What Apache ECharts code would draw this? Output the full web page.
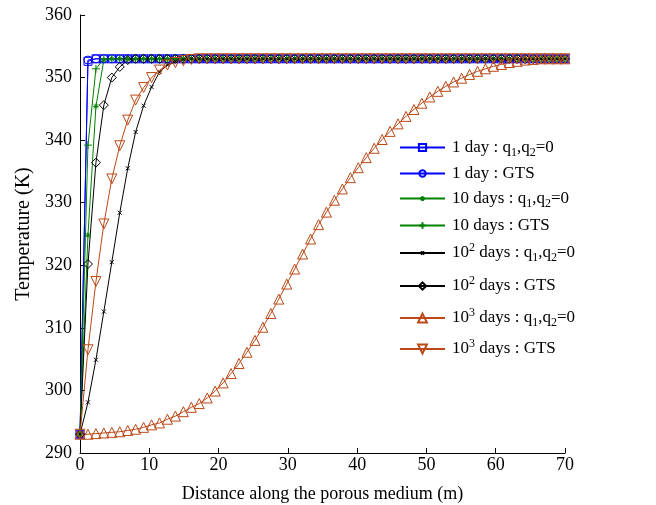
<!DOCTYPE html>
<html>
<head>
<meta charset="utf-8">
<script src="https://cdn.jsdelivr.net/npm/echarts@6/dist/echarts.min.js"></script>
<style>
html, body { margin: 0; padding: 0; background: #fff; }
#main { width: 656px; height: 505px; }
</style>
</head>
<body>
<div id="main"></div>
<script>
// x nodes along the medium (m)
var xs = [0, 1.15, 2.30, 3.44, 4.59, 5.74, 6.89, 8.03, 9.18, 10.33,
  11.48, 12.62, 13.77, 14.92, 16.07, 17.21, 18.36, 19.51, 20.66, 21.80,
  22.95, 24.10, 25.25, 26.39, 27.54, 28.69, 29.84, 30.98, 32.13, 33.28,
  34.43, 35.57, 36.72, 37.87, 39.02, 40.16, 41.31, 42.46, 43.61, 44.75,
  45.90, 47.05, 48.20, 49.34, 50.49, 51.64, 52.79, 53.93, 55.08, 56.23,
  57.38, 58.52, 59.67, 60.82, 61.97, 63.11, 64.26, 65.41, 66.56, 67.70,
  68.85, 70.00];

var day1Q = [293, 352.6, 353, 353, 353, 353, 353, 353, 353, 353,
  353, 353, 353, 353, 353, 353, 353, 353, 353, 353,
  353, 353, 353, 353, 353, 353, 353, 353, 353, 353,
  353, 353, 353, 353, 353, 353, 353, 353, 353, 353,
  353, 353, 353, 353, 353, 353, 353, 353, 353, 353,
  353, 353, 353, 353, 353, 353, 353, 353, 353, 353,
  353, 353];
var day1G = [293, 352.8, 353, 353, 353, 353, 353, 353, 353, 353,
  353, 353, 353, 353, 353, 353, 353, 353, 353, 353,
  353, 353, 353, 353, 353, 353, 353, 353, 353, 353,
  353, 353, 353, 353, 353, 353, 353, 353, 353, 353,
  353, 353, 353, 353, 353, 353, 353, 353, 353, 353,
  353, 353, 353, 353, 353, 353, 353, 353, 353, 353,
  353, 353];
var day10Q = [293, 324.8, 345.4, 352.8, 353, 353, 353, 353, 353, 353,
  353, 353, 353, 353, 353, 353, 353, 353, 353, 353,
  353, 353, 353, 353, 353, 353, 353, 353, 353, 353,
  353, 353, 353, 353, 353, 353, 353, 353, 353, 353,
  353, 353, 353, 353, 353, 353, 353, 353, 353, 353,
  353, 353, 353, 353, 353, 353, 353, 353, 353, 353,
  353, 353];
var day10G = [293, 339.2, 351.4, 353, 353, 353, 353, 353, 353, 353,
  353, 353, 353, 353, 353, 353, 353, 353, 353, 353,
  353, 353, 353, 353, 353, 353, 353, 353, 353, 353,
  353, 353, 353, 353, 353, 353, 353, 353, 353, 353,
  353, 353, 353, 353, 353, 353, 353, 353, 353, 353,
  353, 353, 353, 353, 353, 353, 353, 353, 353, 353,
  353, 353];
var day100Q = [293, 298.1, 304.9, 312.6, 320.5, 328.4, 335.5, 341.3, 345.5, 348.5,
  350.9, 352.0, 352.6, 352.9, 353, 353, 353, 353, 353, 353,
  353, 353, 353, 353, 353, 353, 353, 353, 353, 353,
  353, 353, 353, 353, 353, 353, 353, 353, 353, 353,
  353, 353, 353, 353, 353, 353, 353, 353, 353, 353,
  353, 353, 353, 353, 353, 353, 353, 353, 353, 353,
  353, 353];
var day100G = [293, 320.2, 336.4, 345.6, 350.0, 351.7, 352.8, 353, 353, 353,
  353, 353, 353, 353, 353, 353, 353, 353, 353, 353,
  353, 353, 353, 353, 353, 353, 353, 353, 353, 353,
  353, 353, 353, 353, 353, 353, 353, 353, 353, 353,
  353, 353, 353, 353, 353, 353, 353, 353, 353, 353,
  353, 353, 353, 353, 353, 353, 353, 353, 353, 353,
  353, 353];
var day1000Q = [293.0, 293.0, 293.1, 293.2, 293.3, 293.4, 293.6, 293.8, 294.1, 294.5,
  294.8, 295.4, 295.9, 296.6, 297.3, 297.9, 298.8, 299.9, 301.2, 302.7,
  304.3, 306.1, 308.0, 310.1, 312.3, 314.6, 317.0, 319.4, 321.8, 324.2,
  326.5, 328.5, 330.4, 332.2, 334.0, 335.6, 337.2, 338.7, 340.1, 341.4,
  342.6, 343.8, 344.9, 345.9, 346.9, 347.8, 348.6, 349.3, 349.9, 350.5,
  351.0, 351.4, 351.8, 352.1, 352.4, 352.6, 352.8, 352.9, 353.0, 353.0,
  353.0, 353.0];
var day1000G = [293, 306.5, 317.4, 326.6, 333.8, 339.1, 343.2, 346.4, 348.4, 350.0,
  351.2, 352.0, 352.4, 352.7, 352.9, 353, 353, 353, 353, 353,
  353, 353, 353, 353, 353, 353, 353, 353, 353, 353,
  353, 353, 353, 353, 353, 353, 353, 353, 353, 353,
  353, 353, 353, 353, 353, 353, 353, 353, 353, 353,
  353, 353, 353, 353, 353, 353, 353, 353, 353, 353,
  353, 353];

var names = ['1 day : q1,q2=0', '1 day : GTS', '10 days : q1,q2=0', '10 days : GTS',
  '10^2 days : q1,q2=0', '10^2 days : GTS', '10^3 days : q1,q2=0', '10^3 days : GTS'];
var labels = {
  '1 day : q1,q2=0': '{t|1 day : q}{sub|1}{t|,q}{sub|2}{t|=0}',
  '1 day : GTS': '{t|1 day : GTS}',
  '10 days : q1,q2=0': '{t|10 days : q}{sub|1}{t|,q}{sub|2}{t|=0}',
  '10 days : GTS': '{t|10 days : GTS}',
  '10^2 days : q1,q2=0': '{t|10}{sup|2}{t| days : q}{sub|1}{t|,q}{sub|2}{t|=0}',
  '10^2 days : GTS': '{t|10}{sup|2}{t| days : GTS}',
  '10^3 days : q1,q2=0': '{t|10}{sup|3}{t| days : q}{sub|1}{t|,q}{sub|2}{t|=0}',
  '10^3 days : GTS': '{t|10}{sup|3}{t| days : GTS}'
};
var serieData = [day1Q, day1G, day10Q, day10G, day100Q, day100G, day1000Q, day1000G];

var BLUE = '#0000ff', GREEN = '#008000', BLACK = '#000000', ORANGE = '#bb4816';
var colors = [BLUE, BLUE, GREEN, GREEN, BLACK, BLACK, ORANGE, ORANGE];
var symbols = ['rect', 'circle',
  'path://M5,0 L5,10 M0,5 L10,5 M1.5,1.5 L8.5,8.5 M8.5,1.5 L1.5,8.5',
  'path://M5,0 L5,10 M0,5 L10,5',
  'path://M0,0 L10,10 M10,0 L0,10',
  'diamond', 'triangle', 'path://M0,0 L10,0 L5,9 Z'];
var sizes = [8, 8, 6, 8, 4, 9, 10, 10];
var legendSizes = [9, 8, 6, 8, 4, 9, 11, 11];
var legendCenters = [145, 171, 196, 223, 248, 281, 313, 344];

var FONT = '"Liberation Serif", "Times New Roman", serif';

var dom = document.getElementById('main');
var myChart = echarts.init(dom);

var series = [];
var legends = [];
for (var k = 0; k < names.length; k++) {
  var pts = [];
  for (var i = 0; i < xs.length; i++) {
    pts.push([xs[i], serieData[k][i]]);
  }
  series.push({
    name: names[k],
    type: 'line',
    data: pts,
    symbol: symbols[k],
    symbolSize: sizes[k],
    showAllSymbol: true,
    animation: false,
    lineStyle: { color: colors[k], width: 1 },
    itemStyle: { color: 'rgba(255,255,255,0)', borderColor: colors[k], borderWidth: 1 }
  });
  legends.push({
    data: [names[k]],
    left: 394,
    top: legendCenters[k] - 11,
    itemWidth: 45,
    itemHeight: legendSizes[k],
    itemGap: 0,
    selectedMode: false,
    formatter: function (name) { return labels[name]; },
    textStyle: {
      fontFamily: FONT,
      color: '#000',
      padding: [0, 0, 0, 2],
      rich: {
        t: { fontSize: 17, fontFamily: FONT, color: '#000', lineHeight: 22, verticalAlign: 'middle' },
        sub: { fontSize: 12, fontFamily: FONT, color: '#000', lineHeight: 12, verticalAlign: 'bottom', padding: [4, 0, 0, 0] },
        sup: { fontSize: 12, fontFamily: FONT, color: '#000', lineHeight: 12, verticalAlign: 'top' }
      }
    }
  });
}

var option = {
  backgroundColor: '#fff',
  animation: false,
  legend: legends,
  grid: { left: 80, right: 91, top: 15, bottom: 52, containLabel: false, outerBoundsMode: 'none' },
  xAxis: {
    type: 'value',
    min: 0,
    max: 70,
    interval: 10,
    name: 'Distance along the porous medium (m)',
    nameLocation: 'middle',
    nameGap: 32,
    nameTextStyle: { fontFamily: FONT, fontSize: 18, color: '#000' },
    axisLine: { lineStyle: { color: '#000', width: 1 } },
    axisTick: { inside: true, length: 5, lineStyle: { color: '#000' } },
    axisLabel: { fontFamily: FONT, fontSize: 18, color: '#000', margin: 3 },
    splitLine: { show: false }
  },
  yAxis: {
    type: 'value',
    min: 290,
    max: 360,
    interval: 10,
    name: 'Temperature (K)',
    nameLocation: 'middle',
    nameGap: 45,
    nameTextStyle: { fontFamily: FONT, fontSize: 20, color: '#000' },
    axisLine: { show: true, lineStyle: { color: '#000', width: 1 } },
    axisTick: { show: true, inside: true, length: 5, lineStyle: { color: '#000' } },
    axisLabel: { fontFamily: FONT, fontSize: 18, color: '#000', margin: 8 },
    splitLine: { show: false }
  },
  series: series
};

myChart.setOption(option);
</script>
</body>
</html>
